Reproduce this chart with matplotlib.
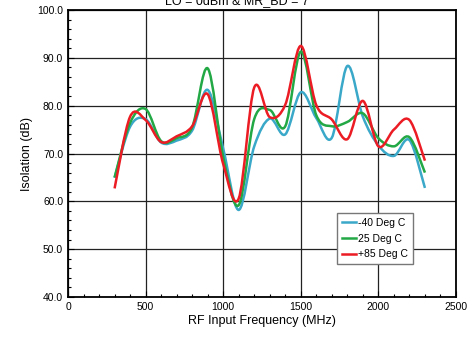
import numpy as np
import matplotlib
matplotlib.use("Agg")
import matplotlib.pyplot as plt
from matplotlib.path import Path
from matplotlib.patches import PathPatch
from matplotlib.lines import Line2D
from matplotlib.ticker import MultipleLocator, FormatStrFormatter

plt.rcParams['font.family'] = ['Liberation Sans', 'DejaVu Sans']

freq = [300, 400, 500, 600, 700, 800, 900, 1000, 1100, 1200, 1300,
        1400, 1500, 1600, 1700, 1800, 1900, 2000, 2100, 2200, 2300]
iso_m40 = [64.9, 75.6, 77.2, 72.3, 72.7, 74.8, 83.3, 71.0, 58.2, 71.5, 77.3,
           74.0, 82.8, 77.4, 73.3, 88.3, 77.7, 71.7, 69.5, 72.8, 62.8]
iso_25 = [65.0, 76.4, 79.3, 72.6, 73.2, 75.5, 87.8, 69.3, 59.2, 77.2, 79.1,
          75.7, 91.3, 78.0, 75.7, 76.6, 78.4, 73.2, 71.5, 73.4, 66.0]
iso_85 = [62.7, 77.7, 77.0, 72.4, 73.6, 75.7, 82.4, 67.8, 60.6, 83.8, 77.6,
          80.2, 92.5, 80.1, 77.1, 73.0, 81.0, 71.5, 75.0, 77.0, 68.5]
labels = ['-40 Deg C', '25 Deg C', '+85 Deg C']
colors = ['#3AA8C8', '#22A845', '#EC1C24']
title_text = 'LO = 0dBm & MR_BD = 7'


def smooth_path(x, y):
    x = np.asarray(x, float)
    y = np.asarray(y, float)
    n = len(x)
    verts = [(x[0], y[0])]
    codes = [Path.MOVETO]
    for i in range(n - 1):
        p0 = np.array([x[max(i - 1, 0)], y[max(i - 1, 0)]])
        p1 = np.array([x[i], y[i]])
        p2 = np.array([x[i + 1], y[i + 1]])
        p3 = np.array([x[min(i + 2, n - 1)], y[min(i + 2, n - 1)]])
        c1 = p1 + (p2 - p0) / 6.0
        c2 = p2 - (p3 - p1) / 6.0
        verts += [tuple(c1), tuple(c2), tuple(p2)]
        codes += [Path.CURVE4] * 3
    return Path(verts, codes)


fig = plt.figure(figsize=(4.73, 3.38), dpi=100)
ax = fig.add_axes([0.1438, 0.1213, 0.8202, 0.8491])

series = [iso_m40, iso_25, iso_85]
handles = []
for vals, c, lab in zip(series, colors, labels):
    patch = PathPatch(smooth_path(freq, vals), facecolor='none', edgecolor=c,
                      lw=1.8, capstyle='butt', joinstyle='round', zorder=3)
    ax.add_patch(patch)
    handles.append(Line2D([], [], color=c, lw=1.8, label=lab))

ax.set_xlim(0, 2500)
ax.set_ylim(40, 100)
ax.xaxis.set_major_locator(MultipleLocator(500))
ax.xaxis.set_minor_locator(MultipleLocator(100))
ax.yaxis.set_major_locator(MultipleLocator(10))
ax.yaxis.set_minor_locator(MultipleLocator(2))
ax.yaxis.set_major_formatter(FormatStrFormatter('%.1f'))
ax.grid(True, which='major', color='#222222', lw=0.9, zorder=1)
ax.tick_params(which='both', direction='in', labelsize=7.5, colors='black')
ax.tick_params(which='major', length=4, width=0.8)
ax.tick_params(which='minor', length=2.5, width=0.8)
for s in ax.spines.values():
    s.set_color('black')
    s.set_linewidth(1.3)

ax.set_xlabel('RF Input Frequency (MHz)', fontsize=9, labelpad=2)
ax.set_ylabel('Isolation (dB)', fontsize=9, labelpad=3)

leg = ax.legend(handles=handles, loc='upper left', bbox_to_anchor=(0.68, 0.31),
                fontsize=7.5, handlelength=1.4, handletextpad=0.15,
                labelspacing=0.55, borderpad=0.45, fancybox=False,
                framealpha=1, edgecolor='#777777')
leg.get_frame().set_linewidth(1.0)
leg.set_zorder(5)

fig.text(0.5, 0.997, title_text, ha='center', va='center', fontsize=9)

fig.savefig('out.png', dpi=100)
